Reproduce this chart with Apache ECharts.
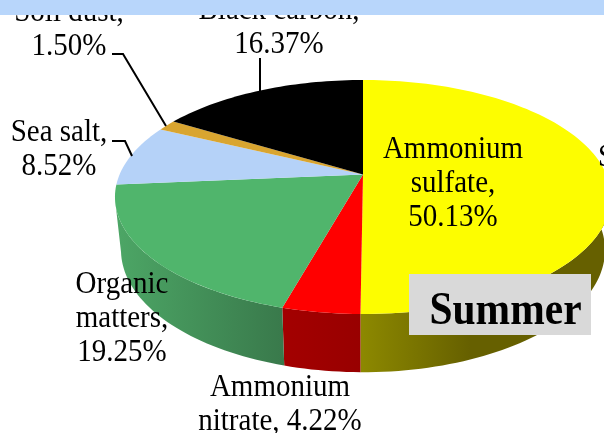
<!DOCTYPE html>
<html><head><meta charset="utf-8">
<style>html,body{margin:0;padding:0;background:#fff}#c{width:604px;height:433px}</style>
<script src="https://cdn.jsdelivr.net/npm/echarts@6/dist/echarts.min.js"></script>
</head><body><div id="c"></div>
<script>
// ---- data ----
const categories = ['Ammonium sulfate', 'Ammonium nitrate', 'Organic matters', 'Sea salt', 'Soil dust', 'Black carbon'];
const values = [50.13, 4.22, 19.25, 8.52, 1.50, 16.37];
const labelHeads = ['Ammonium\nsulfate,', 'Ammonium\nnitrate,', 'Organic\nmatters,', 'Sea salt,', 'Soil dust,', 'Black carbon,'];
const labelJoin = ['\n', ' ', '\n', '\n', '\n', '\n'];
const panelTitle = 'Summer';
const croppedText = 'S';

// ---- styles and layout ----
const topColors = ['#fdfd00', '#ff0000', '#50b56c', '#b5d2f8', '#d9a530', '#000000'];
const wallStops = [
  [[363, '#8c8800'], [470, '#666000']],
  [[284, '#a30000'], [363, '#980000']],
  [[120, '#4ca565'], [284, '#39794b']],
  [[0, '#b5d2f8'], [1, '#b5d2f8']],
  [[0, '#d9a530'], [1, '#d9a530']],
  [[0, '#000'], [1, '#000']]
];
const labelCenters = [[453, 149], [280, 387], [122, 284], [59, 132], [69, 12], [279, 10]];
const leaders = [null, null, null, [[112, 141], [125, 141], [132, 156]], [[112, 54], [123, 54], [166, 126]], [[260, 58], [260, 91]]];
const FONT = '"Liberation Serif","Times New Roman",serif';
const STRETCH = 1.1, LINE = 30.6, FS = 29;
const CX = 363, K = -0.1923;
const topRim = {ay: 174.5, a: 243.4, b: 112.7};
const baseRim = {ay: 226.6, a: 237.5, b: 117.6};
const total = values.reduce((s, v) => s + v, 0);

function rim(r, deg) {
  const t = deg * Math.PI / 180, u = Math.sin(t), v = -Math.cos(t), w = 1 + K * v;
  return [CX + r.a * u / w, r.ay + r.b * v / w];
}
function arc(r, a0, a1) {
  const pts = [], n = Math.max(2, Math.ceil((a1 - a0) / 1.5));
  for (let i = 0; i <= n; i++) pts.push(rim(r, a0 + (a1 - a0) * i / n));
  return pts;
}
function angles(i) {
  let s = 0;
  for (let j = 0; j < i; j++) s += values[j];
  return [s / total * 360, (s + values[i]) / total * 360];
}
function renderSlice(params, api) {
  const i = params.dataIndex, [a0, a1] = angles(i), children = [];
  const w0 = Math.max(a0, 90), w1 = Math.min(a1, 258);
  if (w1 > w0) {
    const stops = wallStops[i], x0 = stops[0][0], x1 = stops[1][0];
    children.push({
      type: 'polygon',
      shape: {points: arc(topRim, w0, w1).concat(arc(baseRim, w0, w1).reverse())},
      style: {fill: {type: 'linear', global: true, x: x0, y: 0, x2: x1, y2: 0,
        colorStops: [{offset: 0, color: stops[0][1]}, {offset: 1, color: stops[1][1]}]}}
    });
  }
  children.push({
    type: 'polygon',
    shape: {points: [[CX, topRim.ay]].concat(arc(topRim, a0, a1))},
    style: {fill: topColors[i]}
  });
  return {type: 'group', children};
}
function renderLabel(params, api) {
  const i = params.dataIndex, children = [];
  const txt = labelHeads[i] + labelJoin[i] + api.value(0).toFixed(2) + '%';
  const c = labelCenters[i];
  children.push({
    type: 'text', x: c[0], y: c[1] - 16, scaleY: STRETCH,
    style: {text: txt, font: FS + 'px ' + FONT, lineHeight: LINE, fill: '#000', align: 'center', verticalAlign: 'top'}
  });
  if (leaders[i]) children.push({
    type: 'polyline', shape: {points: leaders[i]},
    style: {stroke: '#000', lineWidth: 2, fill: 'none'}
  });
  return {type: 'group', children};
}
const chart = echarts.init(document.getElementById('c'), null, {renderer: 'canvas'});
chart.setOption({
  animation: false,
  backgroundColor: '#ffffff',
  series: [
    {type: 'custom', name: 'slices', coordinateSystem: 'none', z: 2, renderItem: renderSlice, silent: true,
      data: values.map((v, i) => ({name: categories[i], value: [v]}))},
    {type: 'custom', name: 'labels', coordinateSystem: 'none', z: 3, renderItem: renderLabel, silent: true,
      data: values.map((v, i) => ({name: categories[i], value: [v]}))}
  ],
  graphic: [
    {type: 'rect', z: 10, shape: {x: 0, y: 0, width: 604, height: 15}, style: {fill: '#b8d6fb'}},
    {type: 'rect', z: 10, shape: {x: 409, y: 274, width: 182, height: 61}, style: {fill: '#d9d9d9'}},
    {type: 'text', z: 11, x: 505.5, y: 312, scaleY: STRETCH,
      style: {text: panelTitle, font: 'bold 41.5px ' + FONT, fill: '#000', align: 'center', verticalAlign: 'middle'}},
    {type: 'text', z: 4, x: 598, y: 158, scaleY: STRETCH,
      style: {text: croppedText, font: FS + 'px ' + FONT, fill: '#000', align: 'left', verticalAlign: 'middle'}}
  ]
});
</script></body></html>
